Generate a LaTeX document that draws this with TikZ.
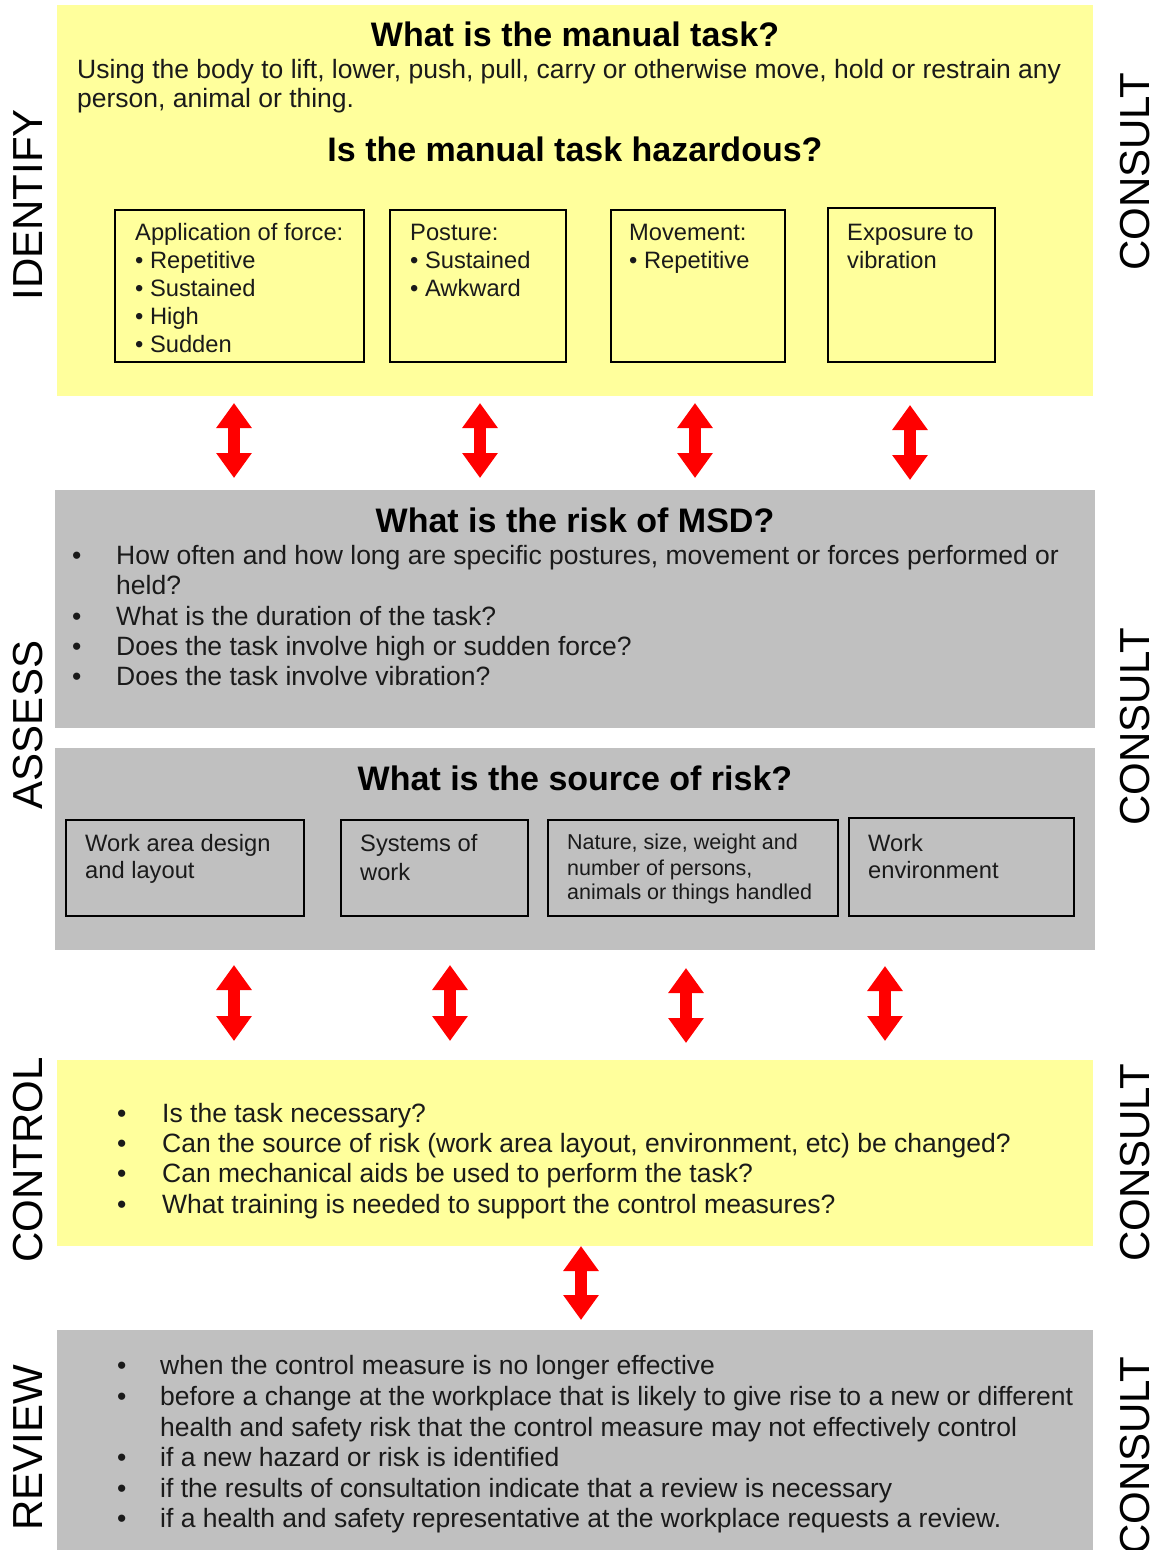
\documentclass[tikz,border=0pt]{standalone}
\usepackage{fontspec}
\setmainfont{Liberation Sans}
\usetikzlibrary{arrows.meta}
\definecolor{pyellow}{HTML}{FFFF9C}
\definecolor{pgray}{HTML}{C0C0C0}
\definecolor{ink}{HTML}{1A1A1A}
\begin{document}
\begin{tikzpicture}[x=1pt,y=-1pt,
  subbox/.style={draw=black, line width=1.3pt},
  body/.style={anchor=base west, inner sep=0pt, text=ink, font=\fontsize{26.5}{30}\selectfont},
  boxtxt/.style={anchor=base west, inner sep=0pt, text=ink, font=\fontsize{23.7}{28}\selectfont},
  smalltxt/.style={anchor=base west, inner sep=0pt, text=ink, font=\fontsize{21.5}{25}\selectfont},
  ttl/.style={anchor=base, inner sep=0pt, text=black, font=\bfseries\fontsize{34}{40}\selectfont},
  side/.style={rotate=90, inner sep=0pt, text=black, font=\fontsize{42}{48}\selectfont},
  dbl/.style={red, line width=12pt, {Triangle[width=34pt,length=25pt]}-{Triangle[width=34pt,length=25pt]}}]
\clip (0,0) rectangle (1158,1550);
\fill[white] (0,0) rectangle (1158,1550);

% ---------- panels ----------
\fill[pyellow] (57,5) rectangle (1093,396);
\fill[pgray] (55,490) rectangle (1095,728);
\fill[pgray] (55,748) rectangle (1095,950);
\fill[pyellow] (57,1060) rectangle (1093,1246);
\fill[pgray] (57,1330) rectangle (1093,1550);

% ---------- side labels ----------
\node[side] (lid) at (28,205) {IDENTIFY};
\node[side] (las) at (28,725) {ASSESS};
\node[side] (lco) at (28,1160) {CONTROL};
\node[side] (lre) at (28,1448) {REVIEW};
\node[side] (c1) at (1135,172) {CONSULT};
\node[side] (c2) at (1135,727) {CONSULT};
\node[side] (c3) at (1135,1163) {CONSULT};
\node[side] (c4) at (1135,1456) {CONSULT};

% ---------- IDENTIFY ----------
\node[ttl] (t1) at (575,46) {What is the manual task?};
\node[body] (b1) at (77,78) {Using the body to lift, lower, push, pull, carry or otherwise move, hold or restrain any};
\node[body] (b2) at (77,107) {person, animal or thing.};
\node[ttl] (t2) at (575,161) {Is the manual task hazardous?};

\draw[subbox] (115,210) rectangle (364,362);
\draw[subbox] (390,210) rectangle (566,362);
\draw[subbox] (611,210) rectangle (785,362);
\draw[subbox] (828,208) rectangle (995,362);

\node[boxtxt] (f0) at (135,240) {Application of force:};
\node[boxtxt] (f1) at (135,268) {• Repetitive};
\node[boxtxt] (f2) at (135,296) {• Sustained};
\node[boxtxt] (f3) at (135,324) {• High};
\node[boxtxt] (f4) at (135,352) {• Sudden};
\node[boxtxt] (p0) at (410,240) {Posture:};
\node[boxtxt] (p1) at (410,268) {• Sustained};
\node[boxtxt] (p2) at (410,296) {• Awkward};
\node[boxtxt] (m0) at (629,240) {Movement:};
\node[boxtxt] (m1) at (629,268) {• Repetitive};
\node[boxtxt] (v0) at (847,240) {Exposure to};
\node[boxtxt] (v1) at (847,268) {vibration};

% ---------- arrows set 1 ----------
\coordinate (a1t) at (234,403); \coordinate (a1b) at (234,478);
\coordinate (a2t) at (480,403); \coordinate (a2b) at (480,478);
\coordinate (a3t) at (695,403); \coordinate (a3b) at (695,478);
\coordinate (a4t) at (910,405); \coordinate (a4b) at (910,480);
\draw[dbl] (a1t) -- (a1b);
\draw[dbl] (a2t) -- (a2b);
\draw[dbl] (a3t) -- (a3b);
\draw[dbl] (a4t) -- (a4b);

% ---------- ASSESS: risk ----------
\node[ttl] (t3) at (575,532) {What is the risk of MSD?};
\node[body] (rb1) at (72,564) {•};
\node[body] (r1) at (116,564) {How often and how long are specific postures, movement or forces performed or};
\node[body] (r1b) at (116,594) {held?};
\node[body] (rb2) at (72,625) {•};
\node[body] (r2) at (116,625) {What is the duration of the task?};
\node[body] (rb3) at (72,655) {•};
\node[body] (r3) at (116,655) {Does the task involve high or sudden force?};
\node[body] (rb4) at (72,685) {•};
\node[body] (r4) at (116,685) {Does the task involve vibration?};

% ---------- ASSESS: source ----------
\node[ttl] (t4) at (575,790) {What is the source of risk?};
\draw[subbox] (66,820) rectangle (304,916);
\draw[subbox] (341,820) rectangle (528,916);
\draw[subbox] (548,820) rectangle (838,916);
\draw[subbox] (849,818) rectangle (1074,916);
\node[boxtxt] (s1a) at (85,851) {Work area design};
\node[boxtxt] (s1b) at (85,878) {and layout};
\node[boxtxt] (s2a) at (360,851) {Systems of};
\node[boxtxt] (s2b) at (360,880) {work};
\node[smalltxt] (s3a) at (567,849) {Nature, size, weight and};
\node[smalltxt] (s3b) at (567,875) {number of persons,};
\node[smalltxt] (s3c) at (567,899) {animals or things handled};
\node[boxtxt] (s4a) at (868,851) {Work};
\node[boxtxt] (s4b) at (868,878) {environment};

% ---------- arrows set 2 ----------
\coordinate (a5t) at (234,965); \coordinate (a5b) at (234,1041);
\coordinate (a6t) at (450,965); \coordinate (a6b) at (450,1041);
\coordinate (a7t) at (686,968); \coordinate (a7b) at (686,1043);
\coordinate (a8t) at (885,966); \coordinate (a8b) at (885,1041);
\draw[dbl] (a5t) -- (a5b);
\draw[dbl] (a6t) -- (a6b);
\draw[dbl] (a7t) -- (a7b);
\draw[dbl] (a8t) -- (a8b);

% ---------- CONTROL ----------
\node[body] (cb1) at (117,1122) {•};
\node[body] (k1) at (162,1122) {Is the task necessary?};
\node[body] (cb2) at (117,1152) {•};
\node[body] (k2) at (162,1152) {Can the source of risk (work area layout, environment, etc) be changed?};
\node[body] (cb3) at (117,1182) {•};
\node[body] (k3) at (162,1182) {Can mechanical aids be used to perform the task?};
\node[body] (cb4) at (117,1213) {•};
\node[body] (k4) at (162,1213) {What training is needed to support the control measures?};

% ---------- arrow 3 ----------
\coordinate (a9t) at (581,1246); \coordinate (a9b) at (581,1320);
\draw[dbl] (a9t) -- (a9b);

% ---------- REVIEW ----------
\node[body] (vb1) at (117,1374) {•};
\node[body] (w1) at (160,1374) {when the control measure is no longer effective};
\node[body] (vb2) at (117,1405) {•};
\node[body] (w2) at (160,1405) {before a change at the workplace that is likely to give rise to a new or different};
\node[body] (w2b) at (160,1436) {health and safety risk that the control measure may not effectively control};
\node[body] (vb3) at (117,1466) {•};
\node[body] (w3) at (160,1466) {if a new hazard or risk is identified};
\node[body] (vb4) at (117,1497) {•};
\node[body] (w4) at (160,1497) {if the results of consultation indicate that a review is necessary};
\node[body] (vb5) at (117,1527) {•};
\node[body] (w5) at (160,1527) {if a health and safety representative at the workplace requests a review.};
\end{tikzpicture}
\end{document}
